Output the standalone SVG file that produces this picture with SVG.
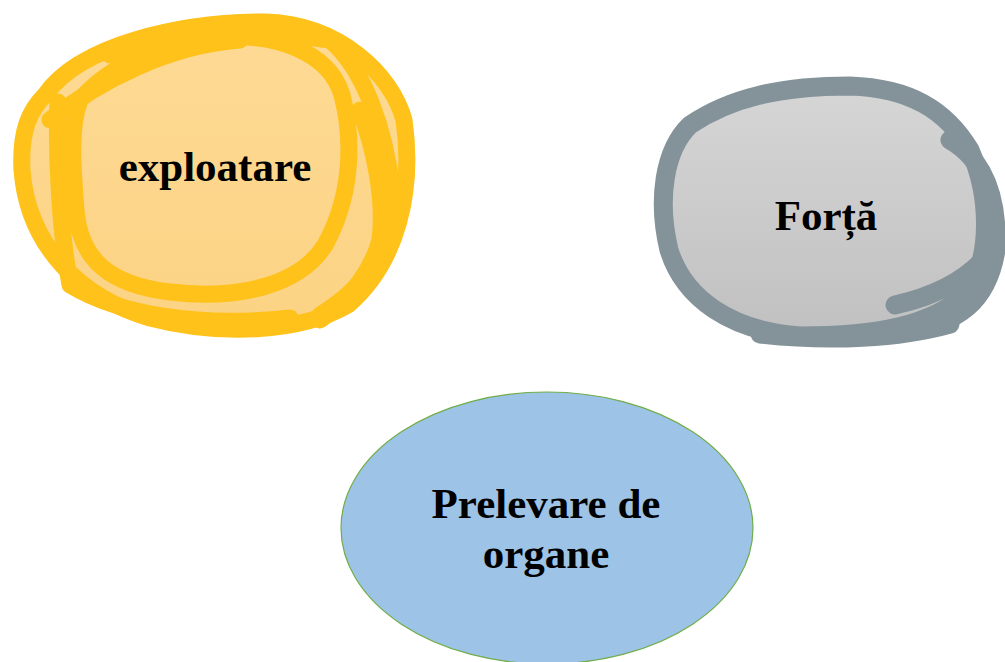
<svg xmlns="http://www.w3.org/2000/svg" width="1005" height="662" viewBox="0 0 1005 662">
<defs>
<linearGradient id="gy" x1="0" y1="0" x2="0" y2="1"><stop offset="0" stop-color="#FDDA95"/><stop offset="1" stop-color="#FCD384"/></linearGradient>
<linearGradient id="gg" x1="0" y1="0" x2="0" y2="1"><stop offset="0" stop-color="#D6D6D6"/><stop offset="1" stop-color="#C0C0C0"/></linearGradient>
<style>
.lbl{font-family:"Liberation Serif","Times New Roman",serif;font-weight:bold;font-size:43px;fill:#000;text-anchor:middle}
.ys{fill:none;stroke:#FEC21A;stroke-width:17;stroke-linecap:round;stroke-linejoin:round}
.gs{fill:none;stroke:#84939A;stroke-width:19;stroke-linecap:round;stroke-linejoin:round}
</style>
</defs>
<g id="node-exploatare">
<path d="M45,95 C80,45 180,22 265,20 C340,22 395,75 410,125 C418,190 400,260 350,305 C300,335 220,340 150,320 C80,300 25,250 18,170 C16,130 28,110 45,95 Z" fill="url(#gy)"/>
<path class="ys" d="M45,95 C80,45 180,22 265,22 C340,24 392,75 404,120 C414,190 398,262 348,305 C300,333 220,336 150,318 C82,298 28,248 22,170 C20,130 30,110 45,95 Z"/>
<path class="ys" d="M80,100 C110,65 160,45 205,38 C280,30 330,55 342,95 C355,145 350,200 325,245 C300,285 240,300 170,292 C110,285 80,260 76,210 C72,160 70,125 80,100 Z"/>
<path class="ys" d="M58,102 C56,160 60,230 70,285 C120,315 200,328 290,318"/>
<path class="ys" d="M110,55 C180,35 260,30 330,40 C365,70 385,130 392,190 C395,240 370,285 320,315"/>
<path class="ys" d="M50,120 C100,80 170,45 240,40"/>
<path class="ys" d="M360,110 C375,150 385,200 380,240 C372,270 350,300 320,320"/>
</g>
<g id="node-forta">
<path d="M690,125 C730,98 780,82 850,82 C910,84 950,110 975,150 C998,200 1000,260 975,295 C940,330 880,340 800,340 C730,335 680,300 665,250 C652,200 660,150 690,125 Z" fill="url(#gg)"/>
<path class="gs" d="M690,125 C730,98 780,86 850,86 C910,88 946,110 970,150 C990,195 992,255 968,292 C933,326 875,336 800,336 C730,331 684,298 669,250 C657,200 664,150 690,125 Z"/>
<path class="gs" d="M950,140 C985,160 998,200 996,250 C988,300 960,325 900,332"/>
<path class="gs" d="M895,305 C940,295 975,275 995,245"/>
<path class="gs" d="M760,334 C830,342 900,338 950,324"/>
</g>
<g id="node-prelevare">
<ellipse cx="547" cy="528" rx="206" ry="136" fill="#9DC3E6" stroke="#70AD47" stroke-width="1.2"/>
</g>
<g id="labels">
<text class="lbl" x="215" y="181">exploatare</text>
<text class="lbl" x="826" y="230">Forță</text>
<text class="lbl" x="546" y="518">Prelevare de</text>
<text class="lbl" x="546" y="568">organe</text>
</g>
<g id="connectors"/>
</svg>
